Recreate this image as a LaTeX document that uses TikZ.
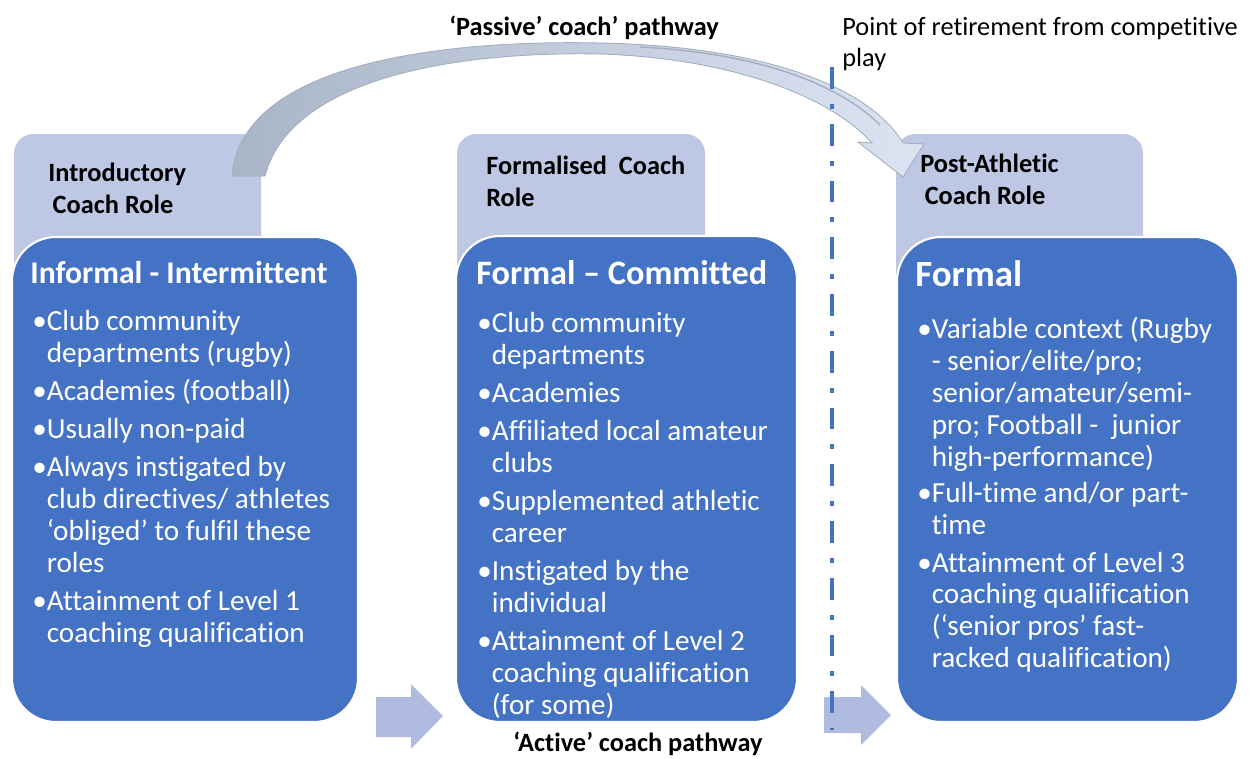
\documentclass[tikz,border=0pt]{standalone}
\usepackage{fontspec}
\setmainfont{Carlito}[Ligatures=NoCommon]
\definecolor{mainc}{HTML}{4472C4}
\definecolor{tabc}{HTML}{BEC8E4}
\definecolor{arrc}{HTML}{AFBCE0}
\definecolor{curvl}{HTML}{A9B5C7}
\definecolor{curvr}{HTML}{DCE4F3}
\definecolor{curvedge}{HTML}{A3AEBF}
\newcommand\hind{\phantom{•}}
\begin{document}
\begin{tikzpicture}[x=0.02cm,y=-0.02cm,
  tabbox/.style={fill=tabc, rounded corners=11pt},
  mainbox/.style={fill=mainc, draw=white, line width=1.2pt, rounded corners=25pt},
  blockarrow/.style={fill=arrc},
  retire/.style={draw=mainc, line width=2.6pt, dash pattern=on 12.5pt off 8.5pt on 2.8pt off 8.5pt},
  tabtext/.style={font=\fontsize{15}{18.1}\selectfont\bfseries, align=left, inner sep=0, anchor=west},
  titletext/.style={text=white, font=\bfseries, inner sep=0, anchor=west},
  bodytext/.style={text=white, align=left, inner sep=0, anchor=north west, font=\fontsize{16.6}{18.2}\selectfont},
  lbl/.style={font=\fontsize{15}{18.1}\selectfont, inner sep=0}]
\useasboundingbox (0,0) rectangle (1250,758);

% tabs
\fill[tabbox] (14,134) rectangle (261,330);
\fill[tabbox] (457,134) rectangle (705,330);
\fill[tabbox] (896,134) rectangle (1143,330);

% curved 'passive' arrow
\coordinate (cs1) at (232,176);
\coordinate (cs2) at (265,176);
\coordinate (tip) at (903,177);
\shade[left color=curvl, right color=curvr, draw=curvedge, line width=0.5pt]
  (cs1) .. controls (242,55) and (470,40) .. (600,43)
  .. controls (760,46) and (868,85) .. (903,143)
  -- (924,144) -- (tip) -- (858,142) -- (872,143)
  .. controls (830,96) and (730,58) .. (600,54)
  .. controls (450,51) and (290,80) .. (cs2) -- cycle;
\draw[curvedge, line width=0.8pt] (640,47) .. controls (760,53) and (840,85) .. (880,125);

% main boxes
\draw[mainbox] (12,237) rectangle (358,722);
\draw[mainbox] (456,236) rectangle (797,722);
\draw[mainbox] (897,237) rectangle (1238,722);

% small block arrows
\fill[blockarrow] (376,697) -- (411,697) -- (411,684) -- (443,716) -- (411,749) -- (411,737) -- (376,737) -- cycle;
\fill[blockarrow] (824,697) -- (861,697) -- (861,685) -- (891,715) -- (861,745) -- (861,733) -- (824,733) -- cycle;

% retirement line
\coordinate (rtop) at (832,67);
\coordinate (rbot) at (832,730);
\draw[retire] (rtop) -- (rbot);

% labels
\node[lbl, font=\fontsize{15}{18.1}\selectfont\bfseries] (passive) at (584,28) {‘Passive’ coach’ pathway};
\node[lbl, font=\fontsize{15}{18.1}\selectfont\bfseries] (active) at (638,744) {‘Active’ coach pathway};
\node[lbl, anchor=west, align=left] (point) at (842,44) {Point of retirement from competitive\\play};

% tab texts
\node[tabtext] (tab1) at (48,188) {Introductory\\\,Coach Role};
\node[tabtext] (tab2) at (486,181) {Formalised\ \ Coach\\Role};
\node[tabtext] (tab3) at (920,179) {Post-Athletic\\\,Coach Role};

% titles
\node[titletext, font=\fontsize{18}{22}\selectfont\bfseries] (title1) at (30,273) {Informal - Intermittent};
\node[titletext, font=\fontsize{19.5}{23}\selectfont\bfseries] (title2) at (476,273) {Formal – Committed};
\node[titletext, font=\fontsize{21}{25}\selectfont\bfseries] (title3) at (915,274) {Formal};

% body texts
\node[bodytext] (body1) at (32,310) {%
•Club community\\
\hind departments (rugby)\\[3.4pt]
•Academies (football)\\[3.4pt]
•Usually non-paid\\[3.4pt]
•Always instigated by\\
\hind club directives/ athletes\\
\hind ‘obliged’ to fulfil these\\
\hind roles\\[3.4pt]
•Attainment of Level 1\\
\hind coaching qualification};

\node[bodytext] (body2) at (477,312) {%
•Club community\\
\hind departments\\[3.4pt]
•Academies\\[3.4pt]
•Affiliated local amateur\\
\hind clubs\\[3.4pt]
•Supplemented athletic\\
\hind career\\[3.4pt]
•Instigated by the\\
\hind individual\\[3.4pt]
•Attainment of Level 2\\
\hind coaching qualification\\
\hind (for some)};

\node[bodytext] (body3) at (917,317) {%
•Variable context (Rugby\\
\hind - senior/elite/pro;\\
\hind senior/amateur/semi-\\
\hind pro; Football -\ \ junior\\
\hind high-performance)\\[2pt]
•Full-time and/or part-\\
\hind time\\[3.4pt]
•Attainment of Level 3\\
\hind coaching qualification\\
\hind (‘senior pros’ fast-\\
\hind racked qualification)};
\end{tikzpicture}
\end{document}
